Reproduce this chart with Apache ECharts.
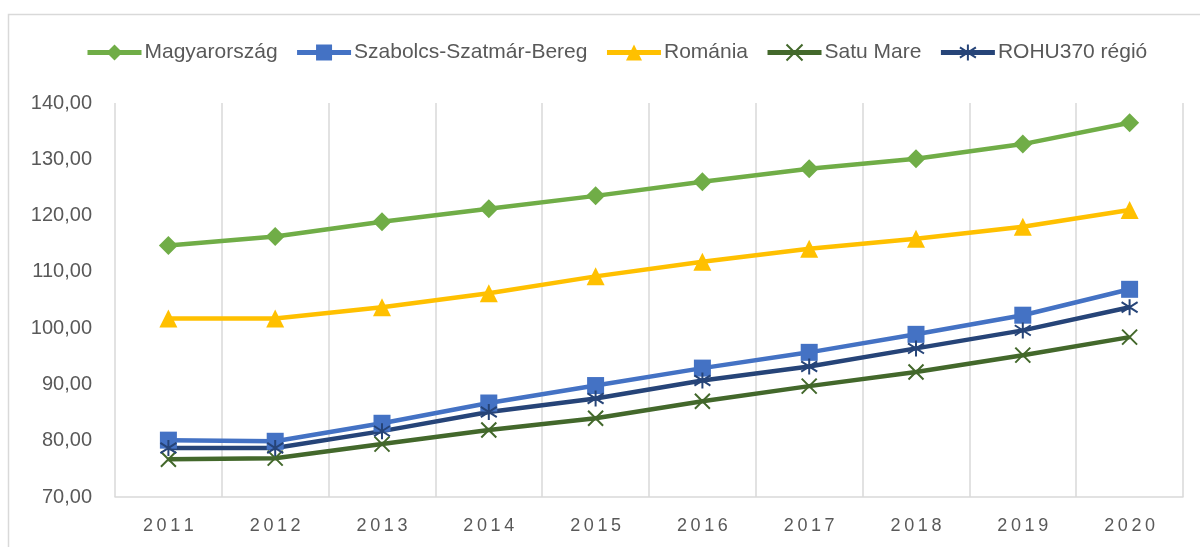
<!DOCTYPE html>
<html>
<head>
<meta charset="utf-8">
<script src="https://cdn.jsdelivr.net/npm/echarts@6/dist/echarts.min.js"></script>
<style>
  html, body { margin: 0; padding: 0; background: #fff; }
  #chart { width: 1200px; height: 547px; }
</style>
</head>
<body>
<div id="chart"></div>
<script>
var years = ['2011', '2012', '2013', '2014', '2015', '2016', '2017', '2018', '2019', '2020'];
var seriesNames = ['Magyarország', 'Szabolcs-Szatmár-Bereg', 'Románia', 'Satu Mare', 'ROHU370 régió'];
var magyar = [114.7, 116.3, 118.9, 121.2, 123.5, 126.0, 128.3, 130.1, 132.7, 136.5];
var szabolcs = [80.1, 79.9, 83.1, 86.7, 89.8, 92.9, 95.7, 98.9, 102.3, 106.9];
var romania = [101.7, 101.7, 103.7, 106.2, 109.2, 111.8, 114.1, 115.9, 118.0, 121.0];
var satuMare = [76.7, 76.9, 79.4, 81.9, 84.0, 87.0, 89.7, 92.2, 95.2, 98.4];
var rohu = [78.7, 78.7, 81.7, 85.1, 87.5, 90.7, 93.2, 96.4, 99.6, 103.7];
var yMin = 70, yMax = 140, yStep = 10;

(function() {
  var ink = '#595959';
  var rule = '#d9d9d9';
  var font = '"Liberation Sans", Arial, sans-serif';

  var xMark = 'path://M0,0L10,10M10,0L0,10';
  var starMark = 'path://M5,0L5,10M0.7,1.8L9.3,8.2M9.3,1.8L0.7,8.2';

  function line(name, data, color, symbol, size, stroked) {
    return {
      name: name,
      type: 'line',
      data: data,
      symbol: symbol,
      symbolSize: size,
      showAllSymbol: true,
      lineStyle: { color: color, width: 4.5 },
      itemStyle: stroked
        ? { color: 'none', borderColor: color, borderWidth: 2 }
        : { color: color, borderWidth: 0 },
      emphasis: { disabled: true }
    };
  }

  var chart = echarts.init(document.getElementById('chart'), null, { renderer: 'canvas' });
  chart.setOption({
    animation: false,
    textStyle: { fontFamily: font },
    graphic: [{
      type: 'rect',
      shape: { x: 8.5, y: 14.5, width: 1400, height: 800 },
      style: { fill: 'none', stroke: rule, lineWidth: 1.5 },
      silent: true
    }],
    legend: {
      top: 37,
      left: 80,
      itemWidth: 54,
      itemHeight: 20,
      itemGap: 17,
      lineStyle: { width: 5 },
      textStyle: { color: ink, fontSize: 21, fontFamily: font, padding: [0, 0, 0, -2] },
      data: seriesNames
    },
    grid: { left: 115, right: 17, top: 103, bottom: 50, containLabel: false },
    xAxis: {
      type: 'category',
      data: years,
      boundaryGap: true,
      axisLine: { lineStyle: { color: rule, width: 1.5 } },
      axisTick: { show: false },
      splitLine: { show: true, lineStyle: { color: rule, width: 1.5 } },
      axisLabel: {
        color: ink,
        fontSize: 18,
        fontFamily: font,
        margin: 20,
        formatter: function(v) { return v.split('').join('\u2009'); }
      }
    },
    yAxis: {
      type: 'value',
      min: yMin,
      max: yMax,
      interval: yStep,
      axisLine: { show: false },
      axisTick: { show: false },
      splitLine: { show: false },
      axisLabel: {
        color: ink,
        fontSize: 20,
        fontFamily: font,
        margin: 23,
        formatter: function(v) { return v.toFixed(2).replace('.', ','); }
      }
    },
    series: [
      line(seriesNames[0], magyar, '#70ad47', 'diamond', 19, false),
      line(seriesNames[1], szabolcs, '#4472c4', 'rect', 17, false),
      line(seriesNames[2], romania, '#ffc000', 'triangle', 18, false),
      line(seriesNames[3], satuMare, '#43682b', xMark, 15, true),
      line(seriesNames[4], rohu, '#264478', starMark, 16, true)
    ]
  });

  window.addEventListener('resize', function() { chart.resize(); });
})();
</script>
</body>
</html>
